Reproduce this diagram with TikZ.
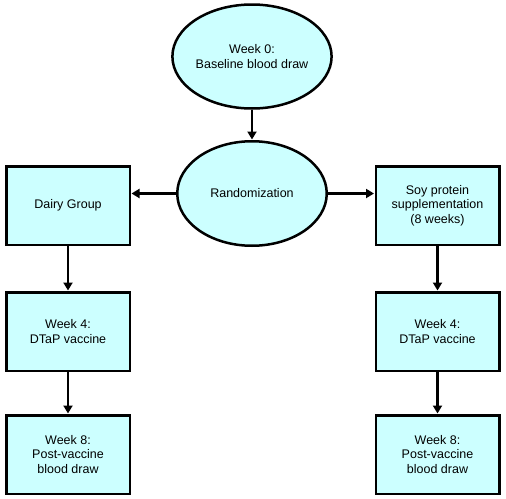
\documentclass[tikz,border=0pt]{standalone}
\usepackage{fontspec}
\setmainfont{Liberation Sans}
\usetikzlibrary{shapes.geometric,arrows.meta}
\definecolor{boxfill}{RGB}{204,255,255}
\tikzset{
  every node/.style={font=\fontsize{12.5}{14.5}\selectfont, align=center, inner sep=0pt},
  oval/.style={ellipse, draw=black, fill=boxfill, line width=2.5pt},
  stepbox/.style={rectangle, draw=black, fill=boxfill, line width=2.5pt, minimum width=123.5pt, minimum height=78.5pt},
  conn/.style={line width=2.5pt, -{Triangle[length=8pt,width=9pt]}, shorten >=0.5pt}
}
\begin{document}
\begin{tikzpicture}[x=1pt,y=-1pt]
\useasboundingbox (0,0) rectangle (506,498);
\node[oval, minimum width=148.5pt, minimum height=104pt] (w0) at (252,56.5) {Week 0:\\Baseline blood draw};
\node[oval, minimum width=149.5pt, minimum height=104.5pt] (rand) at (252,193.5) {Randomization};
\node[stepbox] (dairy) at (68,205.5) {Dairy Group};
\node[stepbox] (soy) at (437.5,205.5) {Soy protein\\supplementation\\(8 weeks)};
\node[stepbox] (dw4) at (68,331.5) {Week 4:\\DTaP vaccine};
\node[stepbox] (sw4) at (437.5,331.5) {Week 4:\\DTaP vaccine};
\node[stepbox] (dw8) at (68,454.5) {Week 8:\\Post-vaccine\\blood draw};
\node[stepbox] (sw8) at (437.5,454.5) {Week 8:\\Post-vaccine\\blood draw};
\draw[conn] (w0) -- (rand);
\draw[conn] (rand.west) -- (dairy.east |- rand.west);
\draw[conn] (rand.east) -- (soy.west |- rand.east);
\draw[conn] (dairy) -- (dw4);
\draw[conn] (dw4) -- (dw8);
\draw[conn] (soy) -- (sw4);
\draw[conn] (sw4) -- (sw8);
\end{tikzpicture}
\end{document}
